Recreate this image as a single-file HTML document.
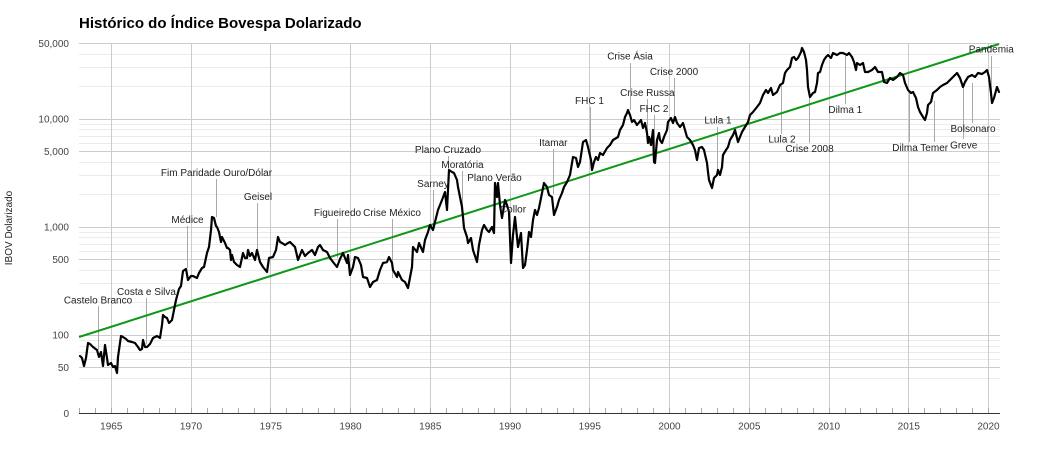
<!DOCTYPE html>
<html>
<head>
<meta charset="utf-8">
<style>
html,body{margin:0;padding:0;background:#fff;}
svg{display:block;font-family:"Liberation Sans",Arial,sans-serif;}
</style>
</head>
<body>
<svg width="1037" height="450" viewBox="0 0 1037 450" xmlns="http://www.w3.org/2000/svg">
<rect width="1037" height="450" fill="#fff"/>
<text x="79" y="28" font-size="15" font-weight="bold" fill="#000">Histórico do Índice Bovespa Dolarizado</text>

<!-- minor horizontal gridlines -->
<g stroke="#ebebeb" stroke-width="1">
<path d="M79 378.5H1000M79 359.5H1000M79 352.5H1000M79 346.5H1000M79 340.5H1000M79 302.5H1000M79 283.5H1000M79 270.5H1000M79 251.5H1000M79 244.5H1000M79 237.5H1000M79 232.5H1000M79 194.5H1000M79 175.5H1000M79 162.5H1000M79 143.5H1000M79 136.5H1000M79 129.5H1000M79 124.5H1000M79 86.5H1000M79 67.5H1000M79 54.5H1000"/>
</g>
<!-- major horizontal gridlines -->
<g stroke="#cccccc" stroke-width="1">
<path d="M79 367.5H1000M79 335.5H1000M79 259.5H1000M79 227.5H1000M79 151.5H1000M79 119.5H1000M79 43.5H1000"/>
</g>
<!-- vertical major gridlines -->
<g stroke="#cccccc" stroke-width="1">
<path d="M111.5 43.5V413M191.5 43.5V413M270.5 43.5V413M350.5 43.5V413M430.5 43.5V413M510.5 43.5V413M589.5 43.5V413M669.5 43.5V413M749.5 43.5V413M829.5 43.5V413M908.5 43.5V413M988.5 43.5V413"/>
</g>
<!-- year ticks -->
<g stroke="#aaaaaa" stroke-width="1">
<path d="M79.5 408V413M95.5 408V413M111.5 408V413M127.5 408V413M143.5 408V413M159.5 408V413M175.5 408V413M191.5 408V413M207.5 408V413M222.5 408V413M238.5 408V413M254.5 408V413M270.5 408V413M286.5 408V413M302.5 408V413M318.5 408V413M334.5 408V413M350.5 408V413M366.5 408V413M382.5 408V413M398.5 408V413M414.5 408V413M430.5 408V413M446.5 408V413M462.5 408V413M478.5 408V413M494.5 408V413M510.5 408V413M526.5 408V413M541.5 408V413M557.5 408V413M573.5 408V413M589.5 408V413M605.5 408V413M621.5 408V413M637.5 408V413M653.5 408V413M669.5 408V413M685.5 408V413M701.5 408V413M717.5 408V413M733.5 408V413M749.5 408V413M765.5 408V413M781.5 408V413M797.5 408V413M813.5 408V413M829.5 408V413M845.5 408V413M860.5 408V413M876.5 408V413M892.5 408V413M908.5 408V413M924.5 408V413M940.5 408V413M956.5 408V413M972.5 408V413M988.5 408V413"/>
</g>
<!-- baseline -->
<line x1="79" y1="413.5" x2="1000" y2="413.5" stroke="#333" stroke-width="1"/>

<!-- y labels -->
<g font-size="10" fill="#444" text-anchor="end">
<text x="69" y="417">0</text>
<text x="69" y="371">50</text>
<text x="69" y="338.5">100</text>
<text x="69" y="263">500</text>
<text x="69" y="230.5">1,000</text>
<text x="69" y="155">5,000</text>
<text x="69" y="122.5">10,000</text>
<text x="69" y="47">50,000</text>
</g>
<!-- x labels -->
<g font-size="10" fill="#444" text-anchor="middle">
<text x="111.3" y="429.5">1965</text>
<text x="191" y="429.5">1970</text>
<text x="270.8" y="429.5">1975</text>
<text x="350.5" y="429.5">1980</text>
<text x="430.3" y="429.5">1985</text>
<text x="510" y="429.5">1990</text>
<text x="589.8" y="429.5">1995</text>
<text x="669.5" y="429.5">2000</text>
<text x="749.3" y="429.5">2005</text>
<text x="829" y="429.5">2010</text>
<text x="908.8" y="429.5">2015</text>
<text x="988.5" y="429.5">2020</text>
</g>
<text transform="translate(12,228) rotate(-90)" font-size="10" fill="#222" text-anchor="middle">IBOV Dolarizado</text>

<!-- annotation stems -->
<g stroke="#aaaaaa" stroke-width="1">
<path d="M98.5 306V350M146.5 298V344M187.5 226V268M216.5 179V217M257.5 203V250M337.5 219V258M392.5 219V278M448.5 156V170M462.5 171V207M433.5 190V229M495.5 184V186M553.5 149V194M590.5 107V160M630.5 63V110M647.5 99V133M654.5 115V162M674.5 78V118M717.5 127V175M781.5 84V134M809.5 97V143M845.5 56V104M909.5 91V142M934.5 101V142M963.5 88V139M972.5 83V123M991.5 56V100"/>
</g>

<!-- trend line -->
<line x1="79" y1="337" x2="999" y2="44" stroke="#109618" stroke-width="2"/>

<!-- series -->
<polyline fill="none" stroke="#000" stroke-width="2.2" stroke-linejoin="round" stroke-linecap="round" points="80,356 82,358 84,366 86,358 88,343 90,344 93,347 97,350 99,357 101,352 103,366 105,345 107,358 108,365 111,363 113,367 115,366 117,373 118,357 121,336 123,337 126,339 128,341 132,342 135,343 138,347 140,350 142,349 143,340 145,347 147,347 150,344 153,338 157,336 160,338 162,325 163,315 165,317 167,318 169,323 172,320 174,310 176,300 179,289 181,286 183,271 186,269 188,280 191,276 193,276 197,278 199,273 202,268 204,267 207,253 209,247 211,230 212,217 214,218 216,226 217,227 219,232 221,242 222,237 225,243 227,248 228,248 230,250 231,260 232,255 234,262 237,265 240,267 243,253 245,258 247,258 248,250 250,256 252,253 255,260 257,250 260,262 263,267 267,272 269,258 273,257 276,250 278,237 280,242 282,243 285,245 288,243 290,242 293,245 295,247 298,260 302,250 305,256 308,253 312,250 315,255 318,247 320,245 323,250 327,252 330,258 333,262 337,267 340,259 343,253 347,263 348,255 350,275 353,267 355,257 358,258 361,265 363,277 367,278 370,287 373,282 377,280 380,270 383,263 387,262 389,257 392,263 393,270 397,277 398,272 402,280 405,282 408,288 412,267 413,247 417,252 419,243 423,252 425,240 428,232 430,225 433,230 436,218 438,210 442,200 445,192 447,210 448,190 449,170 452,172 454,173 457,180 458,187 460,197 462,207 463,217 464,228 467,237 468,243 471,238 473,250 477,262 479,245 482,230 484,225 487,230 489,232 492,227 494,233 495,183 497,197 498,183 500,205 502,218 505,200 507,205 509,212 511,263 513,235 515,217 518,247 521,233 523,268 525,265 527,250 529,232 531,237 533,220 535,210 537,215 539,208 542,193 544,183 547,187 549,195 552,197 554,215 557,207 559,200 562,193 564,187 567,182 570,175 573,157 576,158 578,167 580,162 583,142 586,140 588,147 591,160 592,170 594,162 596,157 598,160 600,153 603,155 607,148 610,145 613,140 618,137 620,130 623,125 625,117 627,113 628,110 630,115 632,122 634,120 637,125 641,120 643,128 645,123 647,133 648,143 649,137 651,145 653,130 654,162 655,163 657,140 659,133 660,140 662,143 664,137 667,130 668,122 671,118 673,123 675,117 677,123 680,127 683,123 685,130 687,137 690,140 693,145 695,150 697,160 699,148 702,147 704,150 707,163 708,172 709,180 712,188 714,178 717,175 718,170 720,175 722,167 723,155 726,150 728,147 730,140 733,135 735,130 738,142 742,132 745,127 748,122 750,115 753,112 757,107 760,103 763,95 766,90 768,93 771,88 773,95 777,92 780,85 783,83 785,73 787,70 790,67 792,58 794,57 796,60 798,58 801,52 802,48 804,52 806,60 807,70 808,87 810,97 813,93 815,92 817,83 818,73 820,72 822,65 824,60 826,57 828,55 831,58 833,53 837,55 840,53 843,53 847,55 849,53 852,57 854,62 856,70 857,63 860,65 863,63 865,72 868,72 872,70 875,67 878,72 882,72 884,82 887,83 890,78 893,80 897,77 900,73 903,75 905,83 908,90 911,93 913,92 916,98 918,107 920,112 923,117 925,120 927,113 928,105 931,102 933,93 937,90 940,87 943,85 947,83 950,80 953,77 957,73 960,78 963,87 965,82 968,77 972,75 975,77 978,73 982,74 985,72 987,70 989,77 991,93 992,103 994,98 997,87 999,92"/>

<!-- annotation labels -->
<g font-size="10" fill="#222" text-anchor="middle">
<text x="98" y="303.5">Castelo Branco</text>
<text x="146.5" y="295">Costa e Silva</text>
<text x="187.5" y="223">Médice</text>
<text x="216.5" y="176">Fim Paridade Ouro/Dólar</text>
<text x="258" y="200">Geisel</text>
<text x="337.5" y="216">Figueiredo</text>
<text x="392" y="216">Crise México</text>
<text x="448" y="153">Plano Cruzado</text>
<text x="462.5" y="168">Moratória</text>
<text x="433" y="187">Sarney</text>
<text x="494.5" y="181">Plano Verão</text>
<text x="513" y="212.5">Collor</text>
<text x="553.3" y="146">Itamar</text>
<text x="589.5" y="104">FHC 1</text>
<text x="630" y="59.5">Crise Ásia</text>
<text x="647.3" y="96">Crise Russa</text>
<text x="654" y="112">FHC 2</text>
<text x="674" y="75">Crise 2000</text>
<text x="718" y="123.5">Lula 1</text>
<text x="782" y="142.5">Lula 2</text>
<text x="809.5" y="152">Crise 2008</text>
<text x="845.3" y="113">Dilma 1</text>
<text x="905" y="151">Dilma</text>
<text x="934.2" y="151">Temer</text>
<text x="963.7" y="148.5">Greve</text>
<text x="973" y="132">Bolsonaro</text>
<text x="991.3" y="52.5">Pandemia</text>
</g>
</svg>
</body>
</html>
